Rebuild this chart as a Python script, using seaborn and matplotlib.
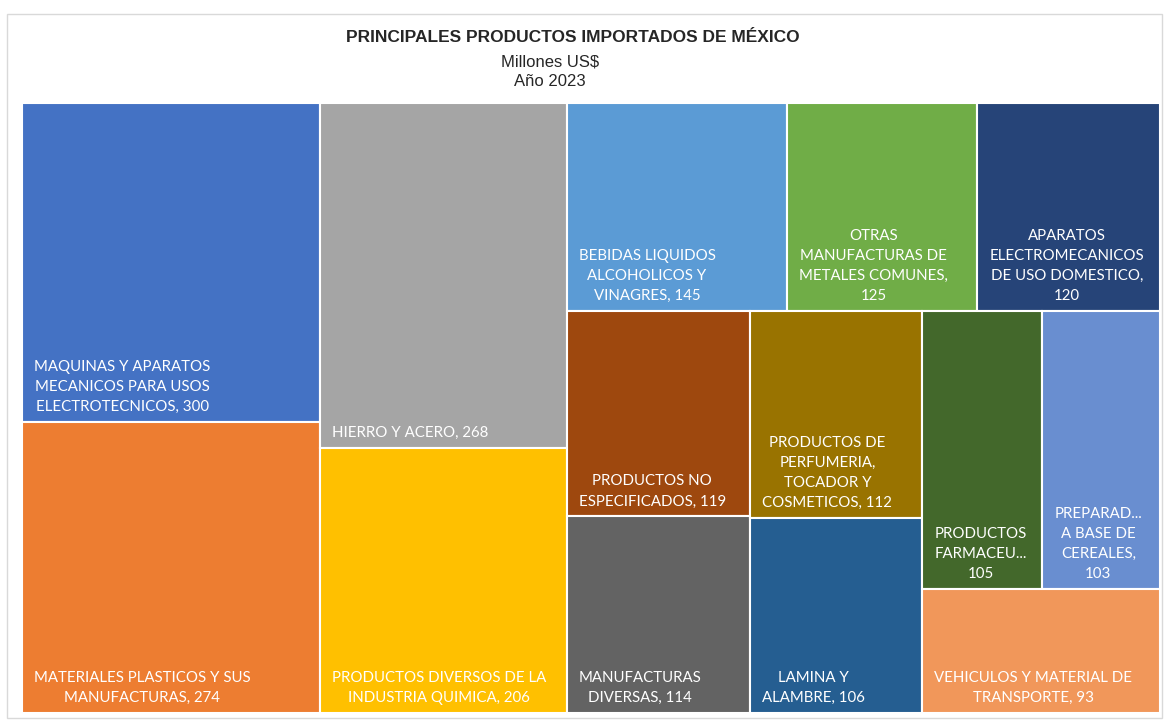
import matplotlib
matplotlib.use("Agg")
import matplotlib.pyplot as plt
import matplotlib.patches as mpatches
import seaborn as sns

# ---------------- data ----------------
categories = [
    "MAQUINAS Y APARATOS MECANICOS PARA USOS ELECTROTECNICOS",
    "MATERIALES PLASTICOS Y SUS MANUFACTURAS",
    "HIERRO Y ACERO",
    "PRODUCTOS DIVERSOS DE LA INDUSTRIA QUIMICA",
    "BEBIDAS LIQUIDOS ALCOHOLICOS Y VINAGRES",
    "OTRAS MANUFACTURAS DE METALES COMUNES",
    "APARATOS ELECTROMECANICOS DE USO DOMESTICO",
    "PRODUCTOS NO ESPECIFICADOS",
    "MANUFACTURAS DIVERSAS",
    "PRODUCTOS DE PERFUMERIA, TOCADOR Y COSMETICOS",
    "LAMINA Y ALAMBRE",
    "PRODUCTOS FARMACEUTICOS",
    "PREPARADOS A BASE DE CEREALES",
    "VEHICULOS Y MATERIAL DE TRANSPORTE",
]
values = [300, 274, 268, 206, 145, 125, 120, 119, 114, 112, 106, 105, 103, 93]
label_templates = [
    "MAQUINAS Y APARATOS\nMECANICOS PARA USOS\nELECTROTECNICOS, {}",
    "MATERIALES PLASTICOS Y SUS\nMANUFACTURAS, {}",
    "HIERRO Y ACERO, {}",
    "PRODUCTOS DIVERSOS DE LA\nINDUSTRIA QUIMICA, {}",
    "BEBIDAS LIQUIDOS\nALCOHOLICOS Y\nVINAGRES, {}",
    "OTRAS\nMANUFACTURAS DE\nMETALES COMUNES,\n{}",
    "APARATOS\nELECTROMECANICOS\nDE USO DOMESTICO,\n{}",
    "PRODUCTOS NO\nESPECIFICADOS, {}",
    "MANUFACTURAS\nDIVERSAS, {}",
    "PRODUCTOS DE\nPERFUMERIA,\nTOCADOR Y\nCOSMETICOS, {}",
    "LAMINA Y\nALAMBRE, {}",
    "PRODUCTOS\nFARMACEU...\n{}",
    "PREPARAD...\nA BASE DE\nCEREALES,\n{}",
    "VEHICULOS Y MATERIAL DE\nTRANSPORTE, {}",
]
colors = ["#4472C4", "#ED7D31", "#A5A5A5", "#FFC000", "#5B9BD5", "#70AD47",
          "#264478", "#9E480E", "#636363", "#997300", "#255E91", "#43682B",
          "#698ED0", "#F1975A"]
title = "PRINCIPALES PRODUCTOS IMPORTADOS DE MÉXICO"
subtitle1 = "Millones US$"
subtitle2 = "Año 2023"

# number of items in each treemap strip (squarified strips)
strip_sizes = [2, 2, 3, 2, 2, 2, 1]

# ---------------- layout ----------------
W_PX, H_PX, DPI = 1165, 721, 100
sns.set_theme(style="white")
plt.rcParams["font.family"] = ["Lato", "DejaVu Sans"]

fig = plt.figure(figsize=(W_PX / DPI, H_PX / DPI), dpi=DPI)
fig.patch.set_facecolor("white")

left_px, right_px, top_px, bottom_px = 22, 1160, 103, 713
ax = fig.add_axes([left_px / W_PX, (H_PX - bottom_px) / H_PX,
                   (right_px - left_px) / W_PX, (bottom_px - top_px) / H_PX])
AW, AH = right_px - left_px, bottom_px - top_px
ax.set_xlim(0, AW)
ax.set_ylim(AH, 0)
ax.set_axis_off()


def strip_layout(vals, sizes, x, y, w, h):
    rects = []
    i = 0
    for g in sizes:
        group = vals[i:i + g]
        s = sum(group)
        rem = sum(vals[i:])
        if w >= h:
            cw = w * s / rem
            yy = y
            for v in group:
                hh = h * v / s
                rects.append((x, yy, cw, hh))
                yy += hh
            x += cw
            w -= cw
        else:
            rh = h * s / rem
            xx = x
            for v in group:
                ww = w * v / s
                rects.append((xx, y, ww, rh))
                xx += ww
            y += rh
            h -= rh
        i += g
    return rects


rects = strip_layout(values, strip_sizes, 0, 0, AW, AH)
palette = sns.color_palette(colors)

for (x, y, w, h), c, tpl, v in zip(rects, palette, label_templates, values):
    ax.bar(x, h, width=w, bottom=y, align="edge", color=c,
           edgecolor="white", linewidth=1.5)
    ax.text(x + 12, y + h - 8, tpl.format(v), ha="left", va="bottom",
            multialignment="center", color="white", fontsize=10.8,
            linespacing=1.55)

# titles
fig.text(573 / W_PX, 1 - 38 / H_PX, title, ha="center", va="center",
         fontsize=12.5, fontweight="bold", family="Liberation Sans", color="#262626")
fig.text(550 / W_PX, 1 - 62 / H_PX, subtitle1, ha="center", va="center",
         fontsize=12, family="Liberation Sans", color="#262626")
fig.text(550 / W_PX, 1 - 81 / H_PX, subtitle2, ha="center", va="center",
         fontsize=12, family="Liberation Sans", color="#262626")

# chart border
fig.patches.append(mpatches.Rectangle((7 / W_PX, 3 / H_PX), 1155 / W_PX, 704 / H_PX,
                                      transform=fig.transFigure, fill=False,
                                      edgecolor="#D9D9D9", linewidth=1))

fig.savefig("out.png", dpi=DPI, facecolor="white")
